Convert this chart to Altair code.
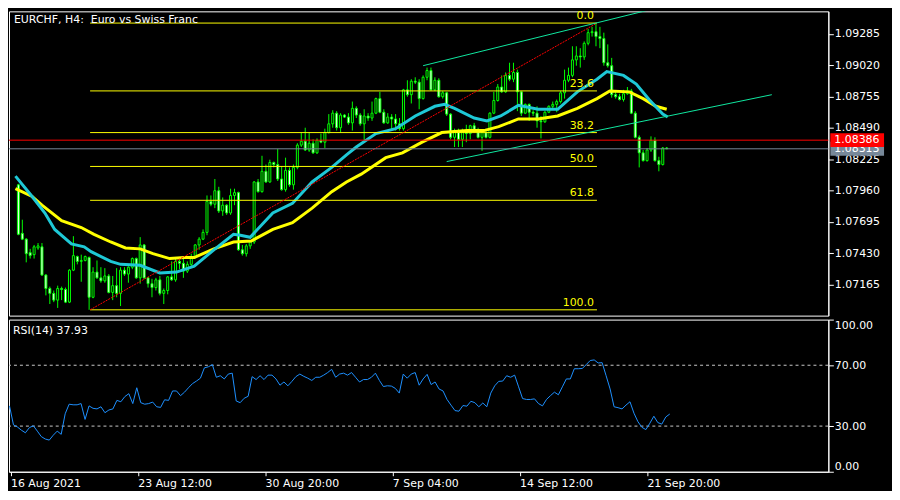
import altair as alt
import pandas as pd

title_text = "EURCHF, H4:\u00a0 Euro vs Swiss Franc"
rsi_text = "RSI(14) 37.93"

open_ = [1.08009,1.07599,1.07550,1.07436,1.07419,1.07476,1.07485,1.07247,1.07133,1.07092,
1.07035,1.07133,1.07125,1.07018,1.07288,1.07403,1.07362,1.07370,1.07395,1.07059,
1.07272,1.07223,1.07198,1.07239,1.07100,1.07157,1.07092,1.07288,1.07255,1.07313,
1.07386,1.07223,1.07501,1.07223,1.07174,1.07141,1.07206,1.07092,1.07116,1.07231,
1.07206,1.07362,1.07346,1.07280,1.07337,1.07403,1.07501,1.07550,1.07607,1.07869,
1.07845,1.07959,1.07788,1.07837,1.07771,1.07919,1.07943,1.07460,1.07427,1.07493,
1.07526,1.08033,1.07951,1.08123,1.08033,1.08197,1.08180,1.08058,1.07968,1.08131,
1.08009,1.08156,1.08344,1.08377,1.08303,1.08360,1.08279,1.08385,1.08369,1.08450,
1.08524,1.08614,1.08491,1.08598,1.08581,1.08532,1.08655,1.08598,1.08524,1.08590,
1.08573,1.08614,1.08737,1.08622,1.08532,1.08581,1.08565,1.08524,1.08483,1.08811,
1.08770,1.08884,1.08876,1.08737,1.08917,1.08974,1.08811,1.08892,1.08753,1.08786,
1.08606,1.08410,1.08467,1.08393,1.08467,1.08442,1.08508,1.08475,1.08410,1.08450,
1.08410,1.08614,1.08721,1.08835,1.08794,1.08933,1.08901,1.08958,1.08794,1.08614,
1.08688,1.08622,1.08614,1.08549,1.08541,1.08622,1.08672,1.08688,1.08712,1.08786,
1.08892,1.08933,1.09064,1.09097,1.09089,1.09204,1.09294,1.09302,1.09261,1.09244,
1.09040,1.09015,1.08770,1.08753,1.08729,1.08778,1.08802,1.08614,1.08410,1.08279,
1.08213,1.08303,1.08385,1.08213,1.08180,1.08320]

high = [1.08017,1.07714,1.07558,1.07468,1.07501,1.07517,1.07517,1.07255,1.07149,1.07116,
1.07157,1.07149,1.07141,1.07296,1.07575,1.07411,1.07419,1.07411,1.07403,1.07313,
1.07370,1.07313,1.07305,1.07255,1.07239,1.07305,1.07313,1.07313,1.07321,1.07395,
1.07395,1.07567,1.07509,1.07231,1.07215,1.07223,1.07239,1.07133,1.07239,1.07362,
1.07395,1.07395,1.07403,1.07362,1.07427,1.07509,1.07567,1.07632,1.07919,1.07919,
1.08058,1.07992,1.07902,1.07845,1.07976,1.07976,1.07951,1.07501,1.07509,1.07542,
1.08041,1.08058,1.08254,1.08180,1.08221,1.08205,1.08311,1.08164,1.08238,1.08156,
1.08180,1.08360,1.08450,1.08491,1.08450,1.08393,1.08401,1.08442,1.08483,1.08606,
1.08639,1.08631,1.08614,1.08606,1.08614,1.08712,1.08672,1.08614,1.08647,1.08614,
1.08712,1.08745,1.08794,1.08647,1.08614,1.08606,1.08606,1.08573,1.08819,1.08892,
1.08901,1.08917,1.08901,1.08933,1.08999,1.08999,1.08917,1.08909,1.08802,1.08794,
1.08614,1.08483,1.08483,1.08483,1.08516,1.08516,1.08532,1.08491,1.08467,1.08483,
1.08622,1.08794,1.08860,1.08933,1.08958,1.09040,1.09040,1.08982,1.08802,1.08696,
1.08696,1.08639,1.08672,1.08590,1.08631,1.08680,1.08712,1.08729,1.08802,1.08982,
1.08999,1.09179,1.09179,1.09163,1.09220,1.09326,1.09343,1.09375,1.09343,1.09294,
1.09195,1.09081,1.08794,1.08778,1.08811,1.08835,1.08819,1.08631,1.08426,1.08303,
1.08320,1.08418,1.08410,1.08246,1.08328,1.08328]

low = [1.07583,1.07542,1.07354,1.07386,1.07386,1.07460,1.07239,1.07075,1.07002,1.07018,
1.06969,1.07035,1.07010,1.07010,1.07280,1.07337,1.07190,1.07362,1.06953,1.07051,
1.07215,1.07182,1.07182,1.07092,1.07035,1.07059,1.06985,1.07239,1.07182,1.07296,
1.07215,1.07174,1.07215,1.07141,1.07059,1.07116,1.07075,1.07002,1.07084,1.07198,
1.07190,1.07296,1.07223,1.07264,1.07321,1.07386,1.07460,1.07542,1.07583,1.07828,
1.07812,1.07771,1.07747,1.07755,1.07755,1.07837,1.07452,1.07411,1.07403,1.07468,
1.07509,1.07943,1.07943,1.08025,1.08025,1.08156,1.08041,1.07959,1.07951,1.07992,
1.07968,1.08140,1.08328,1.08295,1.08287,1.08270,1.08270,1.08360,1.08320,1.08442,
1.08491,1.08467,1.08450,1.08573,1.08516,1.08467,1.08573,1.08508,1.08385,1.08549,
1.08549,1.08606,1.08614,1.08524,1.08524,1.08475,1.08467,1.08467,1.08467,1.08753,
1.08696,1.08860,1.08647,1.08729,1.08892,1.08802,1.08802,1.08745,1.08737,1.08590,
1.08393,1.08328,1.08328,1.08328,1.08369,1.08393,1.08450,1.08401,1.08295,1.08401,
1.08401,1.08606,1.08712,1.08786,1.08786,1.08884,1.08876,1.08631,1.08590,1.08606,
1.08549,1.08590,1.08491,1.08401,1.08532,1.08614,1.08655,1.08622,1.08696,1.08737,
1.08876,1.08917,1.09015,1.08999,1.09064,1.09187,1.09261,1.09179,1.09163,1.09015,
1.08999,1.08745,1.08737,1.08721,1.08712,1.08770,1.08606,1.08401,1.08156,1.08205,
1.08205,1.08287,1.08205,1.08123,1.08172,1.08311]

close = [1.07591,1.07550,1.07427,1.07411,1.07485,1.07493,1.07247,1.07133,1.07092,1.07035,
1.07133,1.07125,1.07018,1.07288,1.07411,1.07362,1.07370,1.07403,1.07059,1.07272,
1.07223,1.07198,1.07239,1.07100,1.07157,1.07092,1.07288,1.07255,1.07313,1.07386,
1.07223,1.07501,1.07223,1.07174,1.07141,1.07206,1.07092,1.07116,1.07231,1.07206,
1.07362,1.07346,1.07280,1.07337,1.07403,1.07501,1.07550,1.07607,1.07869,1.07845,
1.07959,1.07788,1.07837,1.07771,1.07919,1.07943,1.07460,1.07427,1.07493,1.07526,
1.08033,1.07951,1.08123,1.08033,1.08197,1.08180,1.08058,1.07968,1.08131,1.08009,
1.08156,1.08344,1.08377,1.08303,1.08360,1.08279,1.08385,1.08369,1.08450,1.08524,
1.08614,1.08491,1.08598,1.08581,1.08532,1.08655,1.08598,1.08524,1.08590,1.08573,
1.08614,1.08737,1.08622,1.08532,1.08581,1.08565,1.08524,1.08483,1.08811,1.08770,
1.08884,1.08876,1.08737,1.08917,1.08974,1.08811,1.08892,1.08753,1.08786,1.08606,
1.08410,1.08467,1.08393,1.08467,1.08442,1.08508,1.08475,1.08410,1.08450,1.08410,
1.08614,1.08721,1.08835,1.08794,1.08933,1.08901,1.08958,1.08794,1.08614,1.08688,
1.08622,1.08614,1.08549,1.08541,1.08622,1.08672,1.08688,1.08712,1.08786,1.08892,
1.08933,1.09064,1.09097,1.09089,1.09204,1.09294,1.09302,1.09261,1.09244,1.09040,
1.09015,1.08770,1.08753,1.08729,1.08778,1.08802,1.08614,1.08410,1.08279,1.08213,
1.08303,1.08385,1.08213,1.08180,1.08320,1.08313]

rsi_bar = list(range(-1, 166))
rsi_val = [43.3,
30.8,29.4,27.3,25.6,29.0,30.2,26.7,23.1,21.5,20.8,
24.0,26.7,24.6,38.1,44.4,44.0,44.0,44.8,34.4,43.3,
41.7,41.3,42.7,38.8,40.6,41.3,46.9,46.0,49.4,51.3,
44.8,55.2,45.4,44.4,44.8,45.8,42.7,42.3,47.3,46.9,
53.1,53.1,50.0,52.3,55.2,57.9,59.6,61.5,68.3,69.0,
70.4,62.1,63.1,61.0,64.2,64.8,46.5,45.4,48.3,49.6,
62.5,60.6,63.1,60.6,63.5,63.5,61.0,56.9,59.0,56.5,
59.4,62.5,64.2,62.7,61.5,60.0,62.1,62.1,63.5,65.2,
67.3,62.1,64.2,64.8,63.5,65.2,62.1,59.0,60.6,60.6,
62.1,64.8,60.0,56.0,56.5,56.3,54.8,51.7,64.2,61.5,
64.2,65.2,56.9,61.0,64.0,57.3,59.0,54.4,53.1,47.5,
43.8,40.2,39.8,43.5,43.1,46.3,45.4,42.7,45.2,42.7,
51.7,56.5,59.4,59.6,63.1,62.1,63.5,55.8,48.1,47.5,
47.5,47.9,44.8,43.3,47.5,50.0,52.3,50.6,55.8,61.0,
61.0,67.7,67.7,67.9,70.4,73.1,73.5,71.5,71.7,63.1,
54.4,42.7,42.1,41.3,43.8,46.0,38.5,32.9,29.2,27.7,
31.9,36.5,32.3,31.3,36.0,37.93]

cyan_bar = [-0.75,3.5,6.75,9.25,13.5,16.75,18.5,23.5,26,31,36,40.25,44.75,49.75,54.75,56.5,59,
            64.75,69.75,74.75,79.75,83.5,86,91,96,101,106,108.5,111,116,119.25,122.75,127.25,
            132.25,137.25,142.25,147.25,149.75,154,157.25,160.5,164,165.25]
cyan_val = [1.08082,1.07910,1.07771,1.07632,1.07509,1.07485,1.07444,1.07362,1.07337,1.07329,
            1.07264,1.07272,1.07321,1.07460,1.07591,1.07583,1.07566,1.07771,1.07852,1.08033,
            1.08156,1.08262,1.08328,1.08442,1.08483,1.08590,1.08672,1.08688,1.08655,1.08573,
            1.08549,1.08590,1.08680,1.08647,1.08647,1.08794,1.08901,1.08966,1.08933,1.08860,
            1.08729,1.08606,1.08581]

yellow_bar = [-0.75,3.5,6,11,16,19.25,23.5,27.25,31,34.25,38.5,42.25,44.75,49.75,54.75,59.25,
              64.75,69.75,74.75,79.75,83.5,87.25,93.5,97.75,102.75,107.75,114.25,118.5,122.25,
              127.25,132.25,137.25,142.25,147.25,150.5,155.5,159,162.25,165]
yellow_val = [1.07976,1.07910,1.07837,1.07706,1.07648,1.07591,1.07526,1.07476,1.07468,1.07427,
              1.07386,1.07395,1.07395,1.07468,1.07526,1.07534,1.07632,1.07689,1.07812,1.07951,
              1.08033,1.08099,1.08238,1.08279,1.08369,1.08450,1.08467,1.08467,1.08500,1.08565,
              1.08565,1.08590,1.08655,1.08737,1.08802,1.08794,1.08737,1.08672,1.08647]

fib_labels = ["0.0", "23.6", "38.2", "50.0", "61.8", "100.0"]
fib_prices = [1.09375, 1.08802, 1.08450, 1.08164, 1.07878, 1.06953]
fib_from = 18.25
fib_to = 147.25

diag_bar = [18.25, 147.25]
diag_price = [1.06953, 1.09375]

chan_id = ["upper", "upper", "lower", "lower"]
chan_bar = [103, 161, 109, 191.75]
chan_price = [1.09015, 1.09490, 1.08205, 1.08770]

bid_price = 1.08313
ask_price = 1.08386

price_ticks = [1.07165, 1.07430, 1.07695, 1.07960, 1.08225, 1.08490, 1.08755, 1.09020, 1.09285]
rsi_ticks = [0, 30, 70, 100]
rsi_levels = [70, 30]
time_tick_pos = [-0.75, 31.25, 63.25, 95.25, 127.25, 159.25]
time_tick_labels = ["16 Aug 2021", "23 Aug 12:00", "30 Aug 20:00", "7 Sep 04:00",
                    "14 Sep 12:00", "21 Sep 20:00"]

# ---------------- layout ----------------
W, H1, H2 = 824, 306, 153
FONT = "DejaVu Sans"
LIME = "#00ff00"
x_scale = alt.Scale(domain=[-1.125, 204.875], nice=False, zero=False)
y_scale = alt.Scale(domain=[1.06904, 1.09474], nice=False, zero=False)
y_axis = alt.Axis(orient="right", values=price_ticks, format=".5f", title=None,
                  tickSize=5, labelPadding=1, grid=False)


def Yp(field):
    return alt.Y(field, scale=y_scale, axis=y_axis, title=None)


cdf = pd.DataFrame({"i": list(range(len(close))), "open": open_, "high": high,
                    "low": low, "close": close})
X = alt.X("i:Q", scale=x_scale, axis=None)

wicks = alt.Chart(cdf).mark_rule(color=LIME, strokeWidth=1).encode(
    x=X, y=Yp("low:Q"), y2="high:Q")
bodies = alt.Chart(cdf).mark_bar(size=2, stroke=LIME, strokeWidth=1).encode(
    x=X, y=Yp("open:Q"), y2="close:Q",
    fill=alt.condition("datum.close < datum.open", alt.value("white"), alt.value("black")),
)

ydf = pd.DataFrame({"i": yellow_bar, "p": yellow_val})
cydf = pd.DataFrame({"i": cyan_bar, "p": cyan_val})
ma_y = alt.Chart(ydf).mark_line(color="#ffff00", strokeWidth=3, clip=True).encode(
    x=X, y=Yp("p:Q"))
ma_c = alt.Chart(cydf).mark_line(color="#1ec8d6", strokeWidth=3, clip=True).encode(
    x=X, y=Yp("p:Q"))

fdf = pd.DataFrame({"label": fib_labels, "p": fib_prices,
                    "x1": [fib_from] * len(fib_prices), "x2": [fib_to] * len(fib_prices)})
fib_rules = alt.Chart(fdf).mark_rule(color="#ffff00", strokeWidth=1).encode(
    x=alt.X("x1:Q", scale=x_scale, axis=None), x2="x2:Q", y=Yp("p:Q"))
fib_text = alt.Chart(fdf).mark_text(align="right", baseline="middle", dx=-3, dy=-7,
                                    color="#ffff00", font=FONT, fontSize=11).encode(
    x=alt.X("x2:Q", scale=x_scale, axis=None), y=Yp("p:Q"), text="label:N")

ddf = pd.DataFrame({"i": diag_bar, "p": diag_price})
diag = alt.Chart(ddf).mark_line(color="#ff0000", strokeWidth=1, strokeDash=[2, 1]).encode(
    x=X, y=Yp("p:Q"))

chdf = pd.DataFrame({"id": chan_id, "i": chan_bar, "p": chan_price})
chan = alt.Chart(chdf).mark_line(color="#10e8a0", strokeWidth=1, clip=True).encode(
    x=X, y=Yp("p:Q"), detail="id:N")

bdf = pd.DataFrame({"p": [bid_price], "t": [f"{bid_price:.5f}"]})
adf = pd.DataFrame({"p": [ask_price], "t": [f"{ask_price:.5f}"]})
bid_line = alt.Chart(bdf).mark_rule(color="#778899", strokeWidth=1).encode(y=Yp("p:Q"))
ask_line = alt.Chart(adf).mark_rule(color="#ff0000", strokeWidth=1).encode(y=Yp("p:Q"))
bid_box = alt.Chart(bdf).mark_rule(color="#778899", strokeWidth=14).encode(
    x=alt.value(W + 2), x2=alt.value(W + 56), y=Yp("p:Q"))
bid_txt = alt.Chart(bdf).mark_text(align="left", baseline="middle", color="white",
                                   font=FONT, fontSize=11).encode(
    x=alt.value(W + 6), y=Yp("p:Q"), text="t:N")
ask_box = alt.Chart(adf).mark_rule(color="#ff0000", strokeWidth=14).encode(
    x=alt.value(W + 2), x2=alt.value(W + 56), y=Yp("p:Q"))
ask_txt = alt.Chart(adf).mark_text(align="left", baseline="middle", color="white",
                                   font=FONT, fontSize=11).encode(
    x=alt.value(W + 6), y=Yp("p:Q"), text="t:N")

title = alt.Chart(pd.DataFrame({"t": [title_text]})).mark_text(
    align="left", baseline="middle", color="white", font=FONT, fontSize=11).encode(
    x=alt.value(5), y=alt.value(9), text="t:N")

main = alt.layer(wicks, bodies, ma_y, ma_c, fib_rules, fib_text, diag, chan,
                 bid_line, ask_line, bid_box, bid_txt, ask_box, ask_txt, title
                 ).properties(width=W, height=H1)

# ---------------- RSI ----------------
label_expr = ("[" + ",".join(f"'{l}'" for l in time_tick_labels) + "][indexof(["
              + ",".join(str(p) for p in time_tick_pos) + "], datum.value)]")
rdf = pd.DataFrame({"bar": rsi_bar, "rsi": rsi_val})
r_scale = alt.Scale(domain=[0, 100], nice=False, zero=False)
r_axis = alt.Axis(orient="right", values=rsi_ticks, format=".2f", labelFlush=True,
                  tickSize=5, labelPadding=1, title=None, grid=False)
rsi_line = alt.Chart(rdf).mark_line(color="#1e90ff", strokeWidth=1, clip=True).encode(
    x=alt.X("bar:Q", scale=x_scale,
            axis=alt.Axis(values=time_tick_pos, labelExpr=label_expr, labelAlign="left",
                          labelFlush=False, labelOverlap=False, tickSize=4, labelPadding=2,
                          title=None, grid=False)),
    y=alt.Y("rsi:Q", scale=r_scale, axis=r_axis, title=None),
)
lvl = alt.Chart(pd.DataFrame({"v": rsi_levels})).mark_rule(
    color="#c8c8c8", strokeWidth=1, strokeDash=[3, 3]).encode(
    y=alt.Y("v:Q", scale=r_scale, axis=r_axis, title=None))
rsi_title = alt.Chart(pd.DataFrame({"t": [rsi_text]})).mark_text(
    align="left", baseline="middle", color="white", font=FONT, fontSize=11).encode(
    x=alt.value(4), y=alt.value(11), text="t:N")

rsi = alt.layer(lvl, rsi_line, rsi_title).properties(width=W, height=H2)

chart = alt.vconcat(main, rsi, spacing=2).properties(
    padding=0, background="#000000"
).configure_view(stroke="white", strokeWidth=1).configure_axis(
    labelFont=FONT, labelFontSize=11, labelColor="white", tickColor="white",
    domainColor="white", grid=False
)

chart.save("out.html", embed_options={"renderer": "svg", "actions": False})
